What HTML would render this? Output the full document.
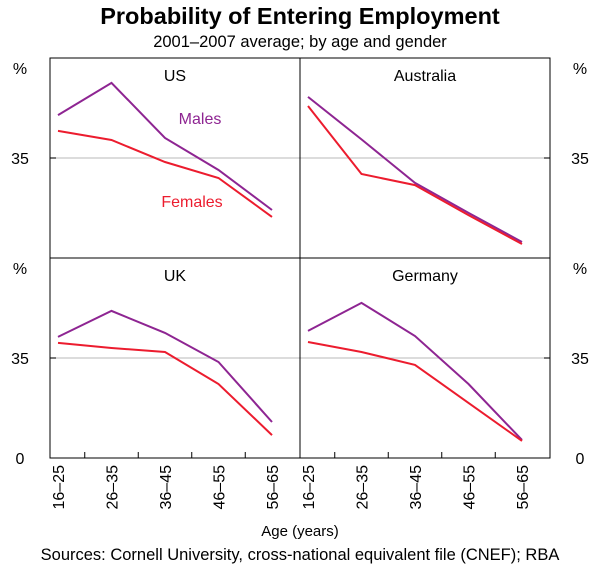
<!DOCTYPE html>
<html><head><meta charset="utf-8"><style>
body{margin:0;background:#fff;}
svg text{font-family:"Liberation Sans",Arial,sans-serif;}
</style></head><body>
<svg id="c" width="600" height="569" viewBox="0 0 600 569" xmlns="http://www.w3.org/2000/svg">
<text x="300" y="24" text-anchor="middle" font-size="23.5" font-weight="bold" fill="#000">Probability of Entering Employment</text>
<text x="300" y="47" text-anchor="middle" font-size="16.5" fill="#000">2001–2007 average; by age and gender</text>
<g id="plot"></g>
<text x="300" y="536" text-anchor="middle" font-size="15">Age (years)</text>
<text x="300" y="560" text-anchor="middle" font-size="16.5">Sources: Cornell University, cross-national equivalent file (CNEF); RBA</text>
</svg>
<script>
const categories=["16–25","26–35","36–45","46–55","56–65"];
const panelNames=["US","Australia","UK","Germany"];
const malesUS=[50,61.3,42,30.8,16.8];
const femalesUS=[44.5,41.3,33.6,28,14.4];
const malesAU=[56.4,41.5,26.3,15.8,5.6];
const femalesAU=[53.2,29.4,25.5,15,4.9];
const malesUK=[42.4,51.5,43.8,33.6,12.6];
const femalesUK=[40.3,38.5,37.1,25.9,8];
const malesDE=[44.5,54.3,42.7,25.9,6.3];
const femalesDE=[40.6,37.1,32.6,19.3,6];
const yTicks=[0,35,70];
const NS="http://www.w3.org/2000/svg";
const g=document.getElementById('plot');
function mk(t,a,p){const e=document.createElementNS(NS,t);for(const k in a)e.setAttribute(k,a[k]);(p||g).appendChild(e);return e;}
const L=50,R=550,T=58,B=458,PW=250,PH=200,YMAX=70;
function xPos(col,i){return L+col*PW+8+i*53.5;}
function yPos(row,v){return T+row*PH+PH-v/YMAX*PH;}
const males=[malesUS,malesAU,malesUK,malesDE];
const females=[femalesUS,femalesAU,femalesUK,femalesDE];
for(let r=0;r<2;r++){
  let gl=mk('line',{x1:L,x2:R,y1:yPos(r,35),y2:yPos(r,35),stroke:'#c8c8c8','stroke-width':1.3});
  
  
}
for(let p=0;p<4;p++){
  const col=p%2,row=Math.floor(p/2);
  const t=mk('text',{x:L+col*PW+PW/2,y:T+row*PH+23,'text-anchor':'middle','font-size':16});
  t.textContent=panelNames[p];
  
  
  [[males[p],'#8e2592','males'],[females[p],'#ec1c2e','females']].forEach(([arr,c,n])=>{
    const pts=arr.map((v,i)=>xPos(col,i).toFixed(1)+','+yPos(row,v).toFixed(1)).join(' ');
    const pl=mk('polyline',{points:pts,fill:'none',stroke:c,'stroke-width':2});
    
    
  });
}
let fr=mk('rect',{x:L,y:T,width:R-L,height:B-T,fill:'none',stroke:'#000','stroke-width':1});


let vl=mk('line',{x1:300,x2:300,y1:T,y2:B,stroke:'#000'});


let hl=mk('line',{x1:L,x2:R,y1:258,y2:258,stroke:'#000'});


for(let r=0;r<2;r++){
  yTicks.forEach(v=>{
    if(r===0&&v===0)return;
    const lbl=v===70?'%':String(v);
    const y=v===70?yPos(r,v)+16:yPos(r,v)+6;
    [[20,'left'],[580,'right']].forEach(([x,s])=>{
      const t=mk('text',{x:x,y:y,'text-anchor':'middle','font-size':16});
      t.textContent=lbl;
      
      
    });
    if(v!==70){
      mk('line',{x1:L,x2:L+6,y1:yPos(r,v),y2:yPos(r,v),stroke:'#000'});
      mk('line',{x1:R-6,x2:R,y1:yPos(r,v),y2:yPos(r,v),stroke:'#000'});
    }
  });
}
for(let col=0;col<2;col++){
  categories.forEach((c,i)=>{
    const x=xPos(col,i);
    const t=mk('text',{x:0,y:0,'text-anchor':'end','font-size':16,transform:`translate(${x+6},465) rotate(-90)`});
    t.textContent=c;
    
    
    if(i<4){const tx=x+26.75;mk('line',{x1:tx,x2:tx,y1:B-6,y2:B,stroke:'#000'});}
  });
}
let lm=mk('text',{x:200,y:124,'text-anchor':'middle','font-size':16,fill:'#8e2592'});
lm.textContent='Males';


let lf=mk('text',{x:192,y:207,'text-anchor':'middle','font-size':16,fill:'#ec1c2e'});
lf.textContent='Females';


</script>
</body></html>
